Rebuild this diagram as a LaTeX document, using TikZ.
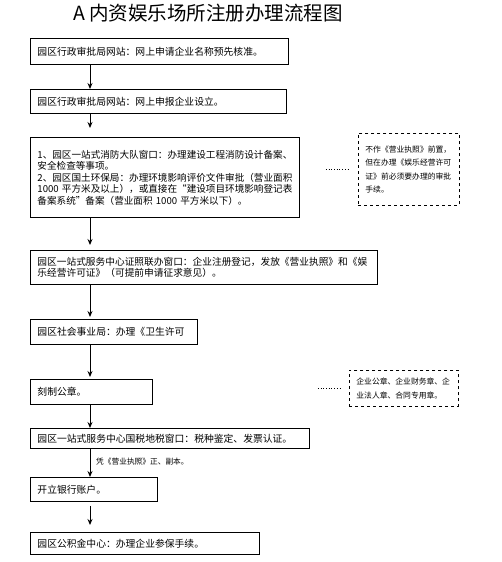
\documentclass[tikz,border=0pt]{standalone}
\usepackage{fontspec}
\setmainfont{Noto Sans CJK SC}
\usepackage{tikz}
\usetikzlibrary{arrows.meta}
\tikzset{
  box/.style={draw, line width=0.9pt, anchor=north west, inner xsep=7pt, inner ysep=0pt, align=left, font=\fontsize{9.8}{11.5}\selectfont},
  note/.style={draw, dashed, line width=0.8pt, anchor=north west, inner xsep=7pt, inner ysep=0pt, align=left, font=\fontsize{7.8}{13.5}\selectfont},
  arr/.style={line width=0.9pt, -{Stealth[length=6pt,width=5pt]}},
  dotline/.style={dotted, line width=0.7pt},
  lbl/.style={font=\fontsize{7.7}{9}\selectfont, anchor=west, inner sep=0pt},
  ttl/.style={font=\fontsize{19.5}{22}\selectfont, inner sep=0pt}
}

\begin{document}
\begin{tikzpicture}[x=1pt,y=-1pt]
\useasboundingbox (0,0) rectangle (501,562);
\node[ttl] (title) at (208,13) {A 内资娱乐场所注册办理流程图};

% steps
\node[box, text width=244pt, minimum height=26pt] (b1) at (30,38) {园区行政审批局网站：网上申请企业名称预先核准。};
\node[box, text width=242pt, minimum height=24pt] (b2) at (30,89) {园区行政审批局网站：网上申报企业设立。};
\node[box, text width=255pt, minimum height=80pt, font=\fontsize{9.6}{11.5}\selectfont] (b3) at (30,137) {1、园区一站式消防大队窗口：办理建设工程消防设计备案、\\安全检查等事项。\\2、园区国土环保局：办理环境影响评价文件审批（营业面积\\1000 平方米及以上），或直接在“建设项目环境影响登记表\\备案系统”备案（营业面积 1000 平方米以下）。};
\node[box, text width=333pt, minimum height=34pt, font=\fontsize{9.7}{11}\selectfont] (b4) at (30,250) {园区一站式服务中心证照联办窗口：企业注册登记，发放《营业执照》和《娱\\乐经营许可证》（可提前申请征求意见）。};
\node[box, text width=153pt, minimum height=25pt] (b5) at (30,319) {园区社会事业局：办理《卫生许可};
\node[box, text width=108pt, minimum height=25pt] (b6) at (30,379) {刻制公章。};
\node[box, text width=265pt, minimum height=20pt] (b7) at (30,428) {园区一站式服务中心国税地税窗口：税种鉴定、发票认证。};
\node[box, text width=113pt, minimum height=24pt] (b8) at (30,477) {开立银行账户。};
\node[box, text width=215pt, minimum height=22pt] (b9) at (30,532) {园区公积金中心：办理企业参保手续。};

% notes
\node[note, text width=87pt, minimum height=72pt] (n1) at (358,133) {不作《营业执照》前置，\\但在办理《娱乐经营许可\\证》前必须要办理的审批\\手续。};
\node[note, text width=95pt, minimum height=36pt, font=\fontsize{7.8}{14}\selectfont] (n2) at (349,370) {企业公章、企业财务章、企\\业法人章、合同专用章。};
\draw[dotline, shorten <=26pt, shorten >=10pt] (b3.east |- n1.west) -- (n1.west);
\draw[dotline, shorten <=165pt, shorten >=7pt] (b6.east |- n2.west) -- (n2.west);

% arrows
\coordinate (col) at (90,0);
\draw[arr] (b1.south -| col) -- (b2.north -| col);
\draw[arr, shorten >=9pt] (b2.south -| col) -- (b3.north -| col);
\draw[arr, shorten >=5pt] (b3.south -| col) -- (b4.north -| col);
\draw[arr, shorten >=2pt] (b4.south -| col) -- (b5.north -| col);
\draw[arr, shorten >=2pt] (b5.south -| col) -- (b6.north -| col);
\draw[arr] (b6.south -| col) -- (b7.north -| col);
\draw[arr] (b7.south -| col) -- (b8.north -| col);
\draw[arr, shorten <=4pt, shorten >=7pt] (b8.south -| col) -- (b9.north -| col);
\node[lbl] (lic) at (96,462) {凭《营业执照》正、副本。};
\end{tikzpicture}
\end{document}
